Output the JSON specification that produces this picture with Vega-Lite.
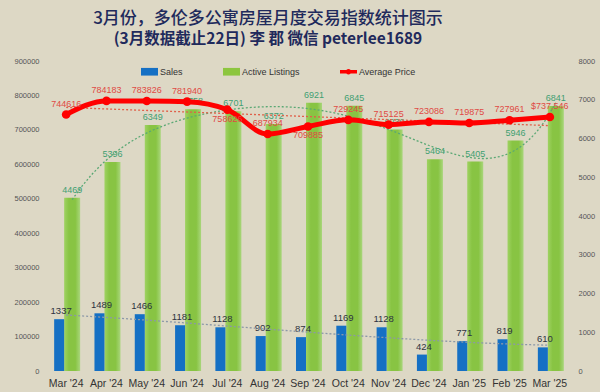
{
  "$schema": "https://vega.github.io/schema/vega-lite/v6.json",
  "width": 524,
  "height": 310,
  "autosize": {"type": "none"},
  "padding": {"left": 46, "top": 61, "right": 30, "bottom": 21},
  "background": "#ddd8c5",
  "config": {
    "view": {"stroke": null},
    "font": "Liberation Sans",
    "axis": {"grid": false, "domain": false, "ticks": false, "labelColor": "#555555", "labelFont": "Liberation Sans", "labelFontSize": 7.5, "labelPadding": 7, "labelOverlap": false}
  },
  "title": {
    "text": "3月份，多伦多公寓房屋月度交易指数统计图示",
    "subtitle": "(3月数据截止22日) 李 郡  微信 peterlee1689",
    "anchor": "middle",
    "dx": -40,
    "offset": 9,
    "font": "Noto Sans CJK SC",
    "fontSize": 17,
    "fontWeight": 500,
    "color": "#1f2a5c",
    "subtitleFont": "Noto Sans CJK SC",
    "subtitleFontSize": 15.5,
    "subtitleFontWeight": "bold",
    "subtitleColor": "#1f2a5c",
    "subtitlePadding": 4
  },
  "data": {
    "values": [
      {"month": "Mar '24", "sales": 1337, "listings": 4469, "price": 744616, "plabel": "744616"},
      {"month": "Apr '24", "sales": 1489, "listings": 5396, "price": 784183, "plabel": "784183"},
      {"month": "May '24", "sales": 1466, "listings": 6349, "price": 783826, "plabel": "783826"},
      {"month": "Jun '24", "sales": 1181, "listings": 6758, "price": 781940, "plabel": "781940"},
      {"month": "Jul '24", "sales": 1128, "listings": 6701, "price": 758626, "plabel": "758626"},
      {"month": "Aug '24", "sales": 902, "listings": 6372, "price": 687934, "plabel": "687934"},
      {"month": "Sep '24", "sales": 874, "listings": 6921, "price": 709885, "plabel": "709885"},
      {"month": "Oct '24", "sales": 1169, "listings": 6845, "price": 729245, "plabel": "729245"},
      {"month": "Nov '24", "sales": 1128, "listings": 6230, "price": 715125, "plabel": "715125"},
      {"month": "Dec '24", "sales": 424, "listings": 5464, "price": 723086, "plabel": "723086"},
      {"month": "Jan '25", "sales": 771, "listings": 5405, "price": 719875, "plabel": "719875"},
      {"month": "Feb '25", "sales": 819, "listings": 5946, "price": 727961, "plabel": "727961"},
      {"month": "Mar '25", "sales": 610, "listings": 6841, "price": 737546, "plabel": "$737,546"}
    ]
  },
  "encoding": {
    "x": {
      "field": "month", "type": "ordinal",
      "scale": {"domain": ["Mar '24","Apr '24","May '24","Jun '24","Jul '24","Aug '24","Sep '24","Oct '24","Nov '24","Dec '24","Jan '25","Feb '25","Mar '25"], "paddingInner": 0, "paddingOuter": 0},
      "axis": null
    }
  },
  "layer": [
    {
      "mark": {"type": "bar", "width": 16, "xOffset": 6, "fill": {"gradient": "linear", "x1": 0, "x2": 1, "y1": 0, "y2": 0, "stops": [{"offset": 0, "color": "#9fd262"}, {"offset": 0.3, "color": "#88c443"}, {"offset": 0.7, "color": "#88c443"}, {"offset": 1, "color": "#a9d67c"}]}},
      "encoding": {
        "y": {"field": "listings", "type": "quantitative", "scale": {"domain": [0, 8000]}, "axis": null}
      }
    },
    {
      "mark": {"type": "bar", "width": 10, "xOffset": -7},
      "encoding": {
        "x": {
          "field": "month", "type": "ordinal",
          "scale": {"domain": ["Mar '24","Apr '24","May '24","Jun '24","Jul '24","Aug '24","Sep '24","Oct '24","Nov '24","Dec '24","Jan '25","Feb '25","Mar '25"], "paddingInner": 0, "paddingOuter": 0},
          "axis": {"title": null, "labelAngle": 0, "labelFontSize": 10.5, "labelColor": "#333333", "labelPadding": 7}
        },
        "y": {"field": "sales", "type": "quantitative", "scale": {"domain": [0, 8000]}, "axis": {"orient": "right", "title": null, "values": [0,1000,2000,3000,4000,5000,6000,7000,8000], "format": "d", "labelPadding": 8}},
        "color": {
          "datum": "Sales",
          "scale": {"domain": ["Sales", "Active Listings", "Average Price"], "range": ["#1570c4", "#8dc63f", "#ff0000"]},
          "legend": {
            "orient": "none", "legendX": 95, "legendY": 2, "direction": "horizontal", "title": null,
            "labelFontSize": 9, "labelColor": "#333333", "labelFont": "Liberation Sans",
            "symbolSize": 289, "columnPadding": 40, "labelOffset": 2, "symbolStrokeWidth": 0,
            "encode": {"symbols": {"update": {"shape": {"signal": "datum.value === 'Average Price' ? 'M-1,-0.2H1V0.2H-1Z M-0.32,0A0.32,0.32,0,1,1,0.32,0A0.32,0.32,0,1,1,-0.32,0Z' : 'M-1,-0.45H1V0.45H-1Z'"}}}}
          }
        }
      }
    },
    {
      "mark": {"type": "text", "xOffset": -5, "baseline": "bottom", "dy": -3, "fontSize": 9.5, "color": "#2d3340"},
      "encoding": {
        "y": {"field": "sales", "type": "quantitative", "scale": {"domain": [0, 8000]}, "axis": null},
        "text": {"field": "sales", "type": "quantitative"}
      }
    },
    {
      "mark": {"type": "text", "xOffset": 6, "baseline": "bottom", "dy": -3, "fontSize": 9, "color": "#3f9f72"},
      "encoding": {
        "y": {"field": "listings", "type": "quantitative", "scale": {"domain": [0, 8000]}, "axis": null},
        "text": {"field": "listings", "type": "quantitative"}
      }
    },
    {
      "transform": [{"window": [{"op": "row_number", "as": "i"}]}, {"regression": "sales", "on": "i", "method": "poly", "order": 3}],
      "mark": {"type": "line", "color": "#8b98a8", "strokeWidth": 1.3, "strokeDash": [2, 2]},
      "encoding": {
        "x": {"field": "i", "type": "quantitative", "scale": {"domain": [0.5, 13.5]}, "axis": null},
        "y": {"field": "sales", "type": "quantitative", "scale": {"domain": [0, 8000]}, "axis": null}
      }
    },
    {
      "transform": [{"window": [{"op": "row_number", "as": "i"}]}, {"regression": "listings", "on": "i", "method": "poly", "order": 5}],
      "mark": {"type": "line", "color": "#5aa874", "strokeWidth": 1.3, "strokeDash": [2, 2], "xOffset": 6},
      "encoding": {
        "x": {"field": "i", "type": "quantitative", "scale": {"domain": [0.5, 13.5]}, "axis": null},
        "y": {"field": "listings", "type": "quantitative", "scale": {"domain": [0, 8000]}, "axis": null}
      }
    },
    {
      "transform": [{"window": [{"op": "row_number", "as": "i"}]}, {"regression": "price", "on": "i", "method": "linear"}],
      "mark": {"type": "line", "color": "#e0604a", "strokeWidth": 1.3, "strokeDash": [2, 2]},
      "encoding": {
        "x": {"field": "i", "type": "quantitative", "scale": {"domain": [0.5, 13.5]}, "axis": null},
        "y": {"field": "price", "type": "quantitative", "scale": {"domain": [0, 900000]}, "axis": null}
      }
    },
    {
      "mark": {"type": "line", "color": "#ff0000", "strokeWidth": 5, "interpolate": "monotone"},
      "encoding": {
        "y": {"field": "price", "type": "quantitative", "scale": {"domain": [0, 900000]}, "axis": {"orient": "left", "title": null, "values": [0,100000,200000,300000,400000,500000,600000,700000,800000,900000], "format": "d"}}
      }
    },
    {
      "mark": {"type": "circle", "color": "#ff0000", "size": 75, "opacity": 1},
      "encoding": {
        "y": {"field": "price", "type": "quantitative", "scale": {"domain": [0, 900000]}, "axis": null}
      }
    },
    {
      "transform": [{"filter": "indexof([\"Jul '24\", \"Sep '24\"], datum.month) < 0"}],
      "mark": {"type": "text", "baseline": "bottom", "dy": -6, "fontSize": 9, "color": "#e04a44"},
      "encoding": {
        "y": {"field": "price", "type": "quantitative", "scale": {"domain": [0, 900000]}, "axis": null},
        "text": {"field": "plabel", "type": "nominal"}
      }
    },
    {
      "transform": [{"filter": "indexof([\"Jul '24\", \"Sep '24\"], datum.month) >= 0"}],
      "mark": {"type": "text", "baseline": "top", "dy": 5, "fontSize": 9, "color": "#e04a44"},
      "encoding": {
        "y": {"field": "price", "type": "quantitative", "scale": {"domain": [0, 900000]}, "axis": null},
        "text": {"field": "plabel", "type": "nominal"}
      }
    }
  ],
  "resolve": {"scale": {"x": "independent", "y": "independent"}}
}
